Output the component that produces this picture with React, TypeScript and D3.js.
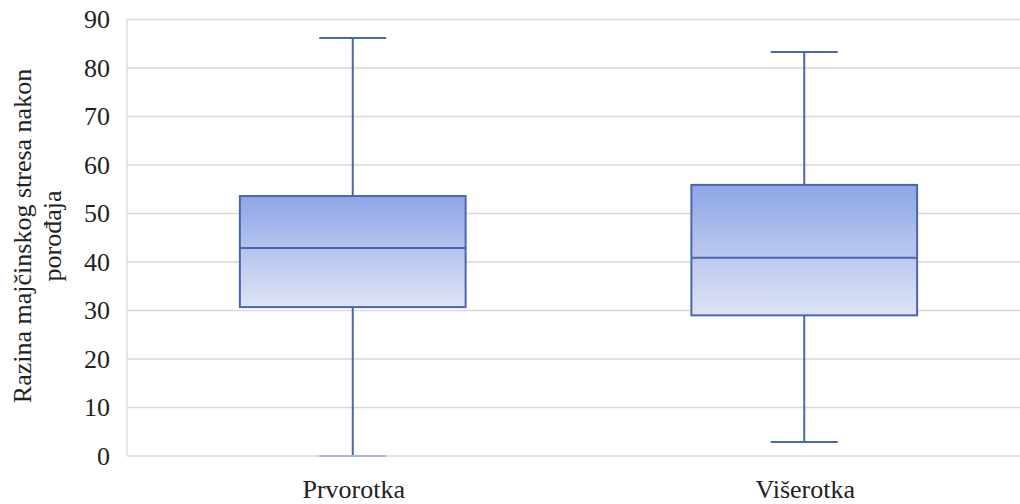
import React from "react";
import * as d3 from "d3";

const categories = ["Prvorotka", "Višerotka"];
const whiskerMin = [0, 2.9];
const q1 = [30.7, 29.0];
const medians = [42.9, 40.9];
const q3 = [53.6, 55.9];
const whiskerMax = [86.2, 83.3];
const yTicks = [0, 10, 20, 30, 40, 50, 60, 70, 80, 90];
const yTitleLines = ["Razina majčinskog stresa nakon", "porođaja"];

const W = 1020;
const H = 504;
const left = 127;
const right = 1030;
const top = 19.5;
const bottom = 456;

export default function App() {
  const x = d3.scaleBand<string>().domain(categories).range([left, right]).padding(0);
  const y = d3.scaleLinear().domain([0, 90]).range([bottom, top]);
  const boxW = x.bandwidth() * 0.5;
  const capW = 67;
  const stroke = "#4a67ad";
  const textStyle: React.CSSProperties = { fontFamily: '"Liberation Serif", "DejaVu Serif", serif', fontSize: "26px" };

  return (
    <svg width={W} height={H} style={{ position: "absolute", left: 0, top: 0, background: "#fff" }}>
      <defs>
        <linearGradient id="boxGrad" x1="0" y1="0" x2="0" y2="1">
          <stop offset="0%" stopColor="#8ea6e8" />
          <stop offset="100%" stopColor="#dfe4f5" />
        </linearGradient>
      </defs>
      {yTicks.map((t) => (
        <g key={t}>
          <line x1={left} x2={W} y1={y(t)} y2={y(t)} stroke="#d9d9d9" strokeWidth={1.3} />
          <text x={110} y={y(t)} dy="0.33em" textAnchor="end" style={textStyle} fill="#222">
            {t}
          </text>
        </g>
      ))}
      <line x1={left} x2={left} y1={top} y2={bottom} stroke="#d9d9d9" strokeWidth={1.3} />
      {categories.map((c, i) => {
        const cx = x(c)! + x.bandwidth() / 2;
        return (
          <g key={c}>
            <line x1={cx} x2={cx} y1={y(whiskerMax[i])} y2={y(q3[i])} stroke={stroke} strokeWidth={2} />
            <line x1={cx} x2={cx} y1={y(q1[i])} y2={y(whiskerMin[i])} stroke={stroke} strokeWidth={2} />
            <line x1={cx - capW / 2} x2={cx + capW / 2} y1={y(whiskerMax[i])} y2={y(whiskerMax[i])} stroke={stroke} strokeWidth={2} />
            <line x1={cx - capW / 2} x2={cx + capW / 2} y1={y(whiskerMin[i])} y2={y(whiskerMin[i])} stroke={i === 0 ? "#a9b5d3" : stroke} strokeWidth={2} />
            <rect
              x={cx - boxW / 2}
              y={y(q3[i])}
              width={boxW}
              height={y(q1[i]) - y(q3[i])}
              fill="url(#boxGrad)"
              stroke={stroke}
              strokeWidth={2}
            />
            <line x1={cx - boxW / 2} x2={cx + boxW / 2} y1={y(medians[i])} y2={y(medians[i])} stroke={stroke} strokeWidth={2} />
            <text x={cx + 1} y={498} textAnchor="middle" style={textStyle} fill="#222">
              {c}
            </text>
          </g>
        );
      })}
      <text transform={`translate(31, 236) rotate(-90)`} textAnchor="middle" style={textStyle} fill="#222">
        {yTitleLines.map((l, i) => (
          <tspan key={i} x={0} dy={i === 0 ? 0 : 30}>
            {l}
          </tspan>
        ))}
      </text>
    </svg>
  );
}
